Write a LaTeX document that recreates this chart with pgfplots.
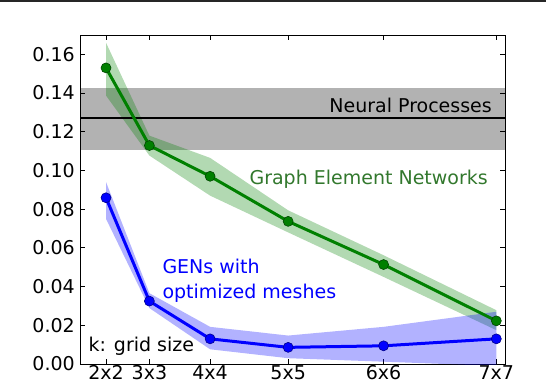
\documentclass[border=0pt]{standalone}
\usepackage{fontspec}
\setmainfont{DejaVu Sans}
\usepackage{pgfplots}
\usepackage{pgfplotstable}
\pgfplotsset{compat=1.18}
\usepgfplotslibrary{fillbetween}

\definecolor{gen}{RGB}{0,128,0}
\definecolor{gentext}{RGB}{50,120,45}
\definecolor{opt}{RGB}{0,0,255}
\newcommand{\lbl}{\fontsize{19bp}{22bp}\selectfont}

% x = k^2 (number of grid nodes), mean and band limits
\pgfplotstableread{
x    m       lo      hi
4    0.1530  0.1387  0.1660
9    0.1129  0.1077  0.1180
16   0.0970  0.0870  0.1065
25   0.0737  0.0680  0.0794
36   0.0514  0.0450  0.0562
49   0.0223  0.0175  0.0278
}\gentab

\pgfplotstableread{
x    m       lo      hi
4    0.0859  0.0750  0.0940
9    0.0325  0.0289  0.0366
16   0.0130  0.0076  0.0192
25   0.0086  0.0030  0.0147
36   0.0094  0.0012  0.0192
49   0.0130  -0.0010 0.0270
}\opttab

\pgfplotstableread{
x    m       lo      hi
1    0.1270  0.1108  0.1426
50   0.1270  0.1108  0.1426
}\nptab

\begin{document}
\begin{tikzpicture}
\fill[black!85] (0,0) rectangle (546bp,-2bp);
\begin{axis}[
    at={(80bp,-364bp)}, anchor=south west,
    scale only axis, width=425bp, height=329bp,
    xmin=1, xmax=50, ymin=0, ymax=0.17,
    xtick={4,9,16,25,36,49},
    xticklabels={2x2,3x3,4x4,5x5,6x6,7x7},
    ytick={0,0.02,0.04,0.06,0.08,0.10,0.12,0.14,0.16},
    /pgf/number format/assume math mode=true,
    y tick label style={/pgf/number format/fixed,
        /pgf/number format/fixed zerofill,
        /pgf/number format/precision=2},
    tick label style={font=\lbl},
    x tick label style={inner sep=0pt, text depth=0pt, yshift=-1.5bp},
    y tick label style={inner sep=0pt, xshift=-5bp},
    tick align=inside, major tick length=5bp,
    every tick/.style={black, line width=0.8bp},
    axis line style={line width=1bp},
]
% Neural Processes band and line
\addplot[name path=nph, draw=none, forget plot] table[x=x, y=hi] {\nptab};
\addplot[name path=npl, draw=none, forget plot] table[x=x, y=lo] {\nptab};
\addplot[fill=black, fill opacity=0.3, draw=none] fill between[of=nph and npl];
\addplot[black, line width=2.2bp] table[x=x, y=m] {\nptab};

% Graph Element Networks
\addplot[name path=gh, draw=none, forget plot] table[x=x, y=hi] {\gentab};
\addplot[name path=gl, draw=none, forget plot] table[x=x, y=lo] {\gentab};
\addplot[fill=gen, fill opacity=0.3, draw=none] fill between[of=gh and gl];
\addplot[gen, line width=3bp, mark=*, mark size=5bp,
    mark options={fill=gen, draw=black!45!gen, line width=0.6bp}]
    table[x=x, y=m] {\gentab};

% GENs with optimized meshes
\addplot[name path=oh, draw=none, forget plot] table[x=x, y=hi] {\opttab};
\addplot[name path=ol, draw=none, forget plot] table[x=x, y=lo] {\opttab};
\addplot[fill=opt, fill opacity=0.3, draw=none] fill between[of=oh and ol];
\addplot[opt, line width=3bp, mark=*, mark size=5bp,
    mark options={fill=opt, draw=black!45!opt, line width=0.6bp}]
    table[x=x, y=m] {\opttab};

\node[anchor=base east, inner sep=0pt, font=\lbl] at (axis cs:48.5,0.1301) {Neural Processes};
\node[anchor=base east, inner sep=0pt, font=\lbl, text=gentext] at (axis cs:48.04,0.0928) {Graph Element Networks};
\node[anchor=base west, inner sep=0pt, font=\lbl, text=opt] at (axis cs:10.49,0.0468) {GENs with};
\node[anchor=base west, inner sep=0pt, font=\lbl, text=opt] at (axis cs:10.49,0.0339) {optimized meshes};
\node[anchor=base west, inner sep=0pt, font=\lbl] at (axis cs:1.96,0.0063) {k: grid size};
\end{axis}
\pgfresetboundingbox
\useasboundingbox (0,0) rectangle (546bp,-384bp);
\end{tikzpicture}
\end{document}
